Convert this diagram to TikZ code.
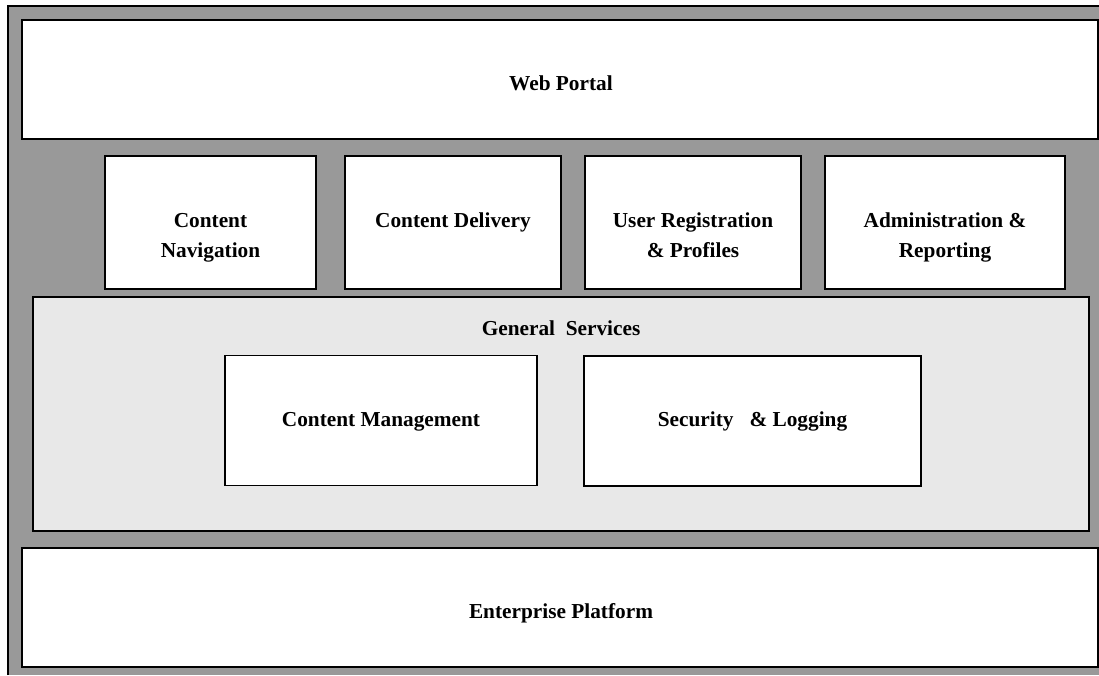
\documentclass[tikz,border=0pt]{standalone}
\usepackage{fontspec}
\setmainfont{Liberation Serif}
\begin{document}
\begin{tikzpicture}[x=1pt,y=-1pt,
  box/.style={draw=black,line width=1.6pt,fill=white,rectangle,inner sep=0pt},
  lbl/.style={font=\fontsize{21.3}{30}\selectfont\bfseries,align=center,inner sep=0pt,anchor=base}]
\useasboundingbox (0,0) rectangle (1099,675);
% outer gray area
\fill[fill={rgb,255:red,153;green,153;blue,153}] (8,6) rectangle (1099,675);
\draw[line width=2pt,black] (8,675) -- (8,6) -- (1099,6);
% web portal
\node[box,minimum width=1076pt,minimum height=119pt] (wp) at (560,79.5) {};
\node[lbl] (wpt) at (561,90) {Web Portal};
% four boxes
\node[box,minimum width=211pt,minimum height=133pt] (cn) at (210.5,222.5) {};
\node[box,minimum width=216pt,minimum height=133pt] (cd) at (453,222.5) {};
\node[box,minimum width=216pt,minimum height=133pt] (ur) at (693,222.5) {};
\node[box,minimum width=240pt,minimum height=133pt] (ar) at (945,222.5) {};
\node[lbl] (cnt) at (210.5,257) {Content\\Navigation};
\node[lbl] (cdt) at (453,227) {Content Delivery};
\node[lbl] (urt) at (693,257) {User Registration\\\& Profiles};
\node[lbl] (art) at (945,257) {Administration \&\\Reporting};
% general services
\node[box,fill={rgb,255:red,232;green,232;blue,232},minimum width=1056pt,minimum height=234pt] (gs) at (561,414) {};
\node[lbl] (gst) at (561,335) {General\ \ Services};
\node[box,minimum width=312pt,minimum height=130pt] (cm) at (381,420.5) {};
\node[box,minimum width=337pt,minimum height=130pt] (sl) at (752.5,421) {};
\node[lbl] (cmt) at (381,426) {Content Management};
\node[lbl] (slt) at (752.5,426) {Security\ \ \ \& Logging};
% enterprise platform
\node[box,minimum width=1076pt,minimum height=119pt] (ep) at (560,607.5) {};
\node[lbl] (ept) at (561,618) {Enterprise Platform};
\end{tikzpicture}
\end{document}
